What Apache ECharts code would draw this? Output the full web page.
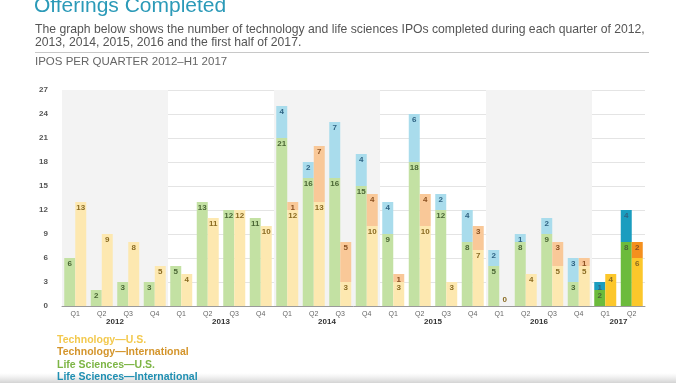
<!DOCTYPE html>
<html>
<head>
<meta charset="utf-8">
<script src="https://cdn.jsdelivr.net/npm/echarts@6/dist/echarts.min.js"></script>
<style>
html,body{margin:0;padding:0;background:#fff;}
#c{width:676px;height:383px;}
</style>
</head>
<body>
<div id="c"></div>
<script>
// ---- data ----
const quarters = ['Q1','Q2','Q3','Q4','Q1','Q2','Q3','Q4','Q1','Q2','Q3','Q4','Q1','Q2','Q3','Q4','Q1','Q2','Q3','Q4','Q1','Q2'];
const years = ['2012','2013','2014','2015','2016','2017'];
const yearQuarterCount = [4,4,4,4,4,2];
const lifeSciUS   = [6,2,3,3, 5,13,12,11, 21,16,16,15, 9,18,12,8, 5,8,9,3, 2,8];
const lifeSciIntl = [0,0,0,0, 0,0,0,0,   4,2,7,4,    4,6,2,4,   2,1,2,3, 1,4];
const techUS      = [13,9,8,5, 4,11,12,10, 12,13,3,10, 3,10,3,7, 0,4,5,5, 4,6];
const techIntl    = [0,0,0,0, 0,0,0,0,    1,7,5,4,    1,4,0,3, 0,0,3,1, 0,2];
const yTicks = {min:0, max:27, interval:3};

const FONT = 'Liberation Sans, Arial, Helvetica, sans-serif';
const pastel = {lsUS:'#c3e1a3', lsIntl:'#a9dcec', tUS:'#fde8b0', tIntl:'#f9c898'};
const strong = {lsUS:'#6cbb3c', lsIntl:'#1a9dbf', tUS:'#fcc72b', tIntl:'#f5901e'};
const lblCol = {lsUS:'#4a6634', lsIntl:'#2f6383', tUS:'#8a6b22', tIntl:'#8a5020'};
const strongFrom = 20;

function build(arr, key, showZero){
  return arr.map((v,i)=>{
    const item = {value:v};
    if(i>=strongFrom) item.itemStyle = {color: strong[key]};
    if(showZero && v===0) item.label = {position:'top', distance:2};
    return item;
  });
}
function mkSeries(name, arr, key, stack, showZero){
  return {
    name, type:'bar', stack, data: build(arr,key,showZero),
    barWidth: 11, barGap: '0%',
    itemStyle:{color: pastel[key]},
    label:{show:true, position:'insideTop', distance:2, fontSize:8, fontWeight:'bold',
      fontFamily:FONT, color: lblCol[key],
      formatter: p => (p.value || showZero) ? String(p.value) : ''},
    emphasis:{disabled:true}
  };
}

// year bands built from quarter counts
const bandData = [];
let start = 0;
years.forEach((y,k)=>{
  const n = yearQuarterCount[k];
  bandData.push([
    {xAxis: start-0.5, name:y, itemStyle:{color: k%2===0 ? '#f3f3f3' : 'rgba(255,255,255,0)'}},
    {xAxis: start+n-0.5}
  ]);
  start += n;
});

const chart = echarts.init(document.getElementById('c'), null, {renderer:'canvas'});
chart.setOption({
  animation:false,
  backgroundColor:'#fff',
  textStyle:{fontFamily:FONT},
  title:[
    {text:'Offerings Completed', left:34, top:-4, padding:0, textStyle:{color:'#2b9ab8', fontSize:21, fontWeight:'normal', fontFamily:FONT}},
    {text:'The graph below shows the number of technology and life sciences IPOs completed during each quarter of 2012,\n2013, 2014, 2015, 2016 and the first half of 2017.',
      left:35, top:23, padding:0, textStyle:{color:'#555', fontSize:12.2, fontWeight:'normal', lineHeight:13, fontFamily:FONT}},
    {text:'IPOS PER QUARTER 2012\u2013H1 2017', left:35, top:56, padding:0, textStyle:{color:'#666', fontSize:11.5, fontWeight:'normal', fontFamily:FONT}}
  ],
  graphic:[
    {type:'line', shape:{x1:35,y1:52.5,x2:649,y2:52.5}, style:{stroke:'#c8c8c8', lineWidth:1}},
    {type:'rect', shape:{x:0,y:373,width:676,height:10}, silent:true,
     style:{fill:new echarts.graphic.LinearGradient(0,0,0,1,[{offset:0,color:'rgba(220,220,220,0)'},{offset:1,color:'rgba(200,200,200,0.8)'}])}}
  ],
  legend:{
    orient:'vertical', left:52, top:334, height:70, padding:0, itemWidth:0, itemHeight:0, itemGap:0,
    icon:'rect', selectedMode:false,
    textStyle:{fontSize:10.5, fontWeight:'bold', fontFamily:FONT, lineHeight:12.4},
    data:[
      {name:'Technology\u2014U.S.', textStyle:{color:'#f3c94e'}},
      {name:'Technology\u2014International', textStyle:{color:'#d4952c'}},
      {name:'Life Sciences\u2014U.S.', textStyle:{color:'#7db545'}},
      {name:'Life Sciences\u2014International', textStyle:{color:'#1f8fb2'}}
    ]
  },
  grid:{left:62, right:31, top:90, bottom:77},
  xAxis:[
    {type:'category', data:quarters, axisTick:{show:false},
     axisLine:{lineStyle:{color:'#9a9a9a', width:1}},
     axisLabel:{fontSize:7, color:'#666', margin:5, interval:0, fontFamily:FONT}},
    {type:'value', min:-0.5, max:quarters.length-0.5, show:false}
  ],
  yAxis:{type:'value', min:yTicks.min, max:yTicks.max, interval:yTicks.interval,
    axisLine:{show:false}, axisTick:{show:false},
    axisLabel:{fontSize:8, color:'#555', margin:14, fontWeight:'bold', fontFamily:FONT},
    splitLine:{lineStyle:{color:'#e4e4e4'}}},
  series:[
    {type:'line', xAxisIndex:1, data:[], silent:true,
     markArea:{silent:true, data:bandData,
       label:{show:true, position:'bottom', distance:12, fontSize:8, fontWeight:'bold', color:'#333', fontFamily:FONT}}},
    mkSeries('Life Sciences\u2014U.S.', lifeSciUS, 'lsUS', 'ls', false),
    mkSeries('Life Sciences\u2014International', lifeSciIntl, 'lsIntl', 'ls', false),
    mkSeries('Technology\u2014U.S.', techUS, 'tUS', 'tech', true),
    mkSeries('Technology\u2014International', techIntl, 'tIntl', 'tech', false)
  ]
});
</script>
</body>
</html>
